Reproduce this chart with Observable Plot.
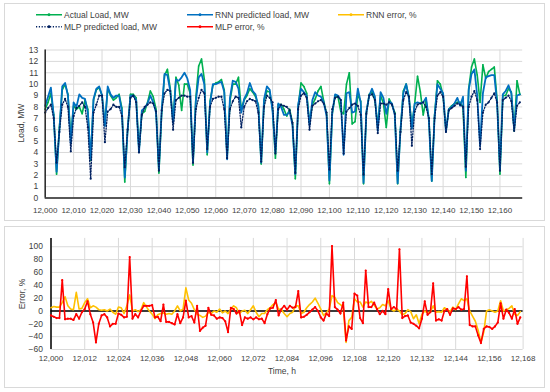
<!DOCTYPE html>
<html><head><meta charset="utf-8">
<script src="https://cdn.jsdelivr.net/npm/d3@7"></script>
<script src="https://cdn.jsdelivr.net/npm/@observablehq/plot@0.6"></script>
<style>
body{margin:0;width:550px;height:392px;background:#fff;position:relative;overflow:hidden;font-family:"Liberation Sans",Arial,sans-serif;color:#404040}
.box{position:absolute;border:1px solid #d9d9d9;box-sizing:border-box}
.abs{position:absolute}
.leg{position:absolute;font-size:8.5px;white-space:nowrap;line-height:1;display:flex;align-items:center;transform:translateY(-50%)}
.leg svg{margin-right:2px}
.ttl{position:absolute;font-size:8.5px;white-space:nowrap;line-height:1}
</style></head><body>
<div class="box" style="left:4px;top:3px;width:541px;height:218px"></div>
<div class="box" style="left:4px;top:226px;width:541px;height:162px"></div>
<div id="top" class="abs" style="left:0;top:0"></div>
<div id="bot" class="abs" style="left:0;top:220px"></div>
<div id="legend"></div>
<div class="ttl" style="left:21px;top:123px;transform:translate(-50%,-50%) rotate(-90deg)">Load, MW</div>
<div class="ttl" style="left:22px;top:294px;transform:translate(-50%,-50%) rotate(-90deg)">Error, %</div>
<div class="ttl" style="left:282px;top:371px;transform:translate(-50%,-50%)">Time, h</div>
<script>
const hours = d3.range(12000, 12168);
const actualLoad = [
7.8,8.4,9.2,7.3,2.1,6.2,9.5,10.0,9.1,5.3,
8.1,7.8,8.0,7.4,8.6,7.8,3.3,8.6,9.5,9.7,
9.0,6.5,9.6,9.0,8.6,8.8,9.1,7.9,1.4,6.0,
9.1,9.1,8.8,4.2,7.4,7.6,8.4,9.4,8.9,7.8,
2.2,7.6,10.8,11.3,9.6,6.8,10.6,9.9,7.7,10.0,
10.0,9.2,2.9,8.8,11.6,12.2,10.4,3.8,8.5,9.9,
10.1,10.2,10.4,9.5,3.5,8.5,10.0,10.0,10.6,7.8,
8.6,9.0,9.6,9.3,8.9,8.2,3.0,8.5,9.4,9.3,
7.8,3.5,8.2,8.2,7.8,7.2,7.8,6.6,1.7,8.0,
10.1,9.8,9.2,6.6,8.2,8.7,9.4,9.8,8.5,7.4,
1.25,7.4,9.0,8.9,7.6,7.4,10.0,11.0,6.5,6.7,
9.1,8.5,1.25,7.5,9.1,9.3,8.6,6.4,9.0,8.3,
6.2,8.7,8.2,7.5,1.25,6.0,9.4,10.0,8.9,6.3,
8.3,10.7,9.3,7.3,8.6,7.0,1.5,7.3,10.3,10.0,
9.0,5.9,7.8,8.1,8.3,8.4,8.4,8.0,1.8,9.6,
11.5,12.2,10.8,8.4,11.7,10.5,11.1,11.3,11.5,8.6,
2.1,9.0,9.0,9.6,9.3,5.9,10.3,9.1];
const rnnLoad = [
8.1,8.9,9.7,7.2,2.3,6.0,9.8,10.1,9.0,4.8,
8.4,8.0,9.1,8.8,8.7,7.5,3.4,8.7,9.6,9.8,
9.0,6.3,9.8,9.1,8.8,9.0,9.0,7.6,1.8,6.0,
9.0,9.0,8.6,4.0,7.7,7.9,8.3,9.0,8.4,7.5,
2.5,7.8,10.9,10.8,9.4,6.6,10.4,10.3,10.6,11.0,
10.5,9.5,3.1,8.5,10.6,10.9,10.0,4.0,8.3,10.0,
10.0,10.1,10.2,9.3,3.4,8.8,10.3,10.2,9.6,7.5,
8.7,9.2,10.1,9.4,9.1,8.0,3.1,8.7,9.8,9.5,
7.6,4.0,8.3,8.0,7.3,7.3,7.6,6.4,2.1,8.2,
9.6,9.3,9.0,6.4,8.6,9.3,9.0,8.9,8.4,7.2,
1.55,7.5,9.1,9.0,8.6,3.8,9.2,9.3,7.5,7.6,
9.6,8.4,1.35,7.6,9.0,9.6,8.9,5.9,9.3,8.8,
7.4,8.5,8.3,7.3,1.3,6.0,9.2,10.0,8.7,6.1,
8.3,8.4,8.3,8.4,8.8,6.8,1.5,7.1,10.0,9.6,
9.2,5.8,7.8,8.0,8.3,8.8,8.1,8.9,2.4,9.5,
10.9,11.3,9.0,4.6,9.2,10.6,10.7,10.8,10.8,8.3,
2.5,9.1,9.4,9.9,9.2,6.0,9.0,9.1];
const mlpLoad = [
7.5,7.9,8.2,7.0,3.1,5.8,8.2,8.7,8.0,4.1,
7.2,7.9,8.1,8.4,8.0,6.2,1.7,7.5,8.2,9.0,
9.0,4.9,7.6,7.8,8.2,8.0,8.0,7.2,2.7,6.0,
8.8,9.0,8.4,4.0,7.3,8.0,8.2,8.4,8.3,7.6,
2.4,7.7,9.2,9.5,9.4,6.0,8.6,8.8,9.0,9.0,
8.9,8.9,3.1,7.8,8.8,9.5,9.2,4.3,8.0,8.7,
8.8,8.9,8.9,7.8,3.5,7.8,8.5,8.9,8.8,6.2,
8.0,8.5,8.7,8.6,8.5,7.5,3.2,8.0,9.0,8.8,
8.4,3.9,7.8,8.2,8.1,8.0,7.7,6.6,2.2,7.8,
9.0,9.2,8.8,6.0,8.1,8.3,8.5,8.6,8.3,7.5,
2.5,7.8,8.8,8.9,8.6,3.9,7.6,7.9,8.2,8.3,
8.1,7.3,2.05,7.4,9.0,9.1,8.6,5.7,8.3,8.3,
8.2,8.4,8.2,7.4,2.4,5.8,8.6,9.3,8.9,4.6,
7.6,8.2,8.3,8.4,8.0,7.0,2.1,7.0,9.0,9.3,
8.9,5.8,7.7,7.9,8.1,8.3,8.2,8.0,2.75,8.0,
8.9,9.4,8.6,4.3,7.5,8.2,8.4,8.8,9.2,8.4,
2.4,8.6,8.8,9.0,8.5,5.9,8.1,8.4];
const rnnError = [
5,7,6,6,13,22,8,3,2,29,
3,4,13,19,5,8,6,2,1,2,
0,3,-2,-5,6,5,-4,8,25,0,
2,-1,2,13,6,0,-5,-12,-6,-4,
-3,-5,-4,-5,0,8,0,3,36,17,
12,2,-5,-7,-10,-8,-2,-4,0,-2,
3,-3,0,-4,3,8,5,-4,0,1,
-4,2,8,-2,-9,-4,-4,2,5,10,
13,3,2,-4,-9,-4,-2,8,8,-4,
-2,5,10,14,20,12,3,-7,-3,3,
24,21,13,10,6,-49,-15,-10,19,14,
14,6,14,12,15,9,3,5,10,8,
16,3,0,3,0,-6,-4,2,-1,-12,
-6,-20,-5,0,-3,-1,8,-2,-1,-2,
5,2,-1,6,2,11,19,16,19,0,
-8,-16,-30,-49,-33,0,2,0,-2,0,
16,0,2,4,8,-5,-7,-1];
const mlpError = [
-7,-9,-11,-11,48,-13,-12,-12,-14,-5,
-12,-2,3,15,-5,-18,-49,-20,-7,-5,
-10,-24,-20,-20,-4,-6,-10,-9,84,-12,
-5,-10,0,8,8,8,9,-10,-9,-16,
10,-17,-17,-19,-21,-5,-19,-10,16,-10,
-8,-18,8,-31,-26,-23,5,-6,-7,-12,
-10,-11,-16,-33,5,3,-4,0,-22,-10,
-12,-10,-13,-10,-13,-12,-19,-5,4,5,
17,-7,3,8,2,8,5,6,31,-10,
-9,-6,-2,2,6,0,-10,-15,-4,-8,
101,6,2,-4,13,-46,-24,-28,27,24,
-11,-19,63,6,6,13,3,-5,0,-5,
34,3,6,3,96,-11,-8,-7,-18,-20,
-23,-27,-12,15,-6,-2,43,-15,-13,-15,
0,3,-6,4,3,6,2,3,54,-22,
-24,-24,-38,-50,-28,-24,-25,-28,-24,-18,
12,-12,2,-3,-12,3,-20,-10];
const loadTicksX = d3.range(12000, 12161, 10);
const loadTicksY = d3.range(0, 14, 1);
const errTicksX = d3.range(12000, 12169, 12);
const errTicksY = d3.range(-60, 101, 20);
const seriesNames = ["Actual Load, MW","RNN predicted load, MW","RNN error, %","MLP predicted load, MW","MLP error, %"];

const rows = hours.map((h,i)=>({h, actual:actualLoad[i], rnn:rnnLoad[i], mlp:mlpLoad[i], rnnErr:rnnError[i], mlpErr:mlpError[i]}));
const fmt = d3.format(",");
const C = {actual:"#00b050", rnn:"#0070c0", rnnErr:"#ffc000", mlp:"#002060", mlpErr:"#ff0000"};
const baseStyle = {fontFamily:"Liberation Sans, Arial, sans-serif", fontSize:"8.5px", color:"#404040", background:"transparent", overflow:"visible"};

const topPlot = Plot.plot({
  width:550, height:220,
  marginLeft:44.7, marginRight:27.8, marginTop:49.5, marginBottom:22.5,
  style: baseStyle,
  x:{domain:[12000,12168]},
  y:{domain:[0,13]},
  marks:[
    Plot.gridY(loadTicksY, {stroke:"#d9d9d9", strokeOpacity:1}),
    Plot.gridX(loadTicksX, {stroke:"#d9d9d9", strokeOpacity:1}),
    Plot.line(rows, {x:"h", y:"actual", stroke:C.actual, strokeWidth:1.6}),
    Plot.dot(rows, {x:"h", y:"actual", r:0.8, fill:C.actual}),
    Plot.line(rows, {x:"h", y:"rnn", stroke:C.rnn, strokeWidth:1.8}),
    Plot.line(rows, {x:"h", y:"mlp", stroke:C.mlp, strokeWidth:1.3, strokeDasharray:"1.2,1.6"}),
    Plot.dot(rows, {x:"h", y:"mlp", r:1.1, fill:C.mlp}),
    Plot.ruleY([0], {stroke:"#262626", strokeWidth:1.5}),
    Plot.ruleX([12000], {stroke:"#262626", strokeWidth:1.5}),
    Plot.axisX(loadTicksX, {tickSize:0, tickPadding:9, tickFormat:fmt, label:null, fontSize:8}),
    Plot.axisY(loadTicksY, {tickSize:0, tickPadding:7, label:null})
  ]
});
document.getElementById("top").appendChild(topPlot);

const botPlot = Plot.plot({
  width:550, height:172,
  marginLeft:50.5, marginRight:27.4, marginTop:17.9, marginBottom:43,
  style: baseStyle,
  x:{domain:[12000,12168]},
  y:{domain:[-60,113]},
  marks:[
    Plot.gridY(errTicksY, {stroke:"#d9d9d9", strokeOpacity:1}),
    Plot.gridX(errTicksX, {stroke:"#d9d9d9", strokeOpacity:1}),
    Plot.ruleY([0], {stroke:"#000", strokeWidth:1.5}),
    Plot.ruleX([12000], {stroke:"#000", strokeWidth:1.5}),
    Plot.line(rows, {x:"h", y:"rnnErr", stroke:C.rnnErr, strokeWidth:1.6}),
    Plot.line(rows, {x:"h", y:"mlpErr", stroke:C.mlpErr, strokeWidth:1.6}),
    Plot.dot(rows, {x:"h", y:"mlpErr", r:1.1, fill:C.mlpErr}),
    Plot.axisX(errTicksX, {tickSize:0, tickPadding:6, tickFormat:fmt, label:null, fontSize:8}),
    Plot.axisY(errTicksY, {tickSize:0, tickPadding:8, label:null})
  ]
});
document.getElementById("bot").appendChild(botPlot);

// legend
const legSpec = [
  {name:seriesNames[0], color:C.actual, dash:null, x:36, y:15},
  {name:seriesNames[1], color:C.rnn, dash:null, x:187, y:15},
  {name:seriesNames[2], color:C.rnnErr, dash:null, x:338, y:15},
  {name:seriesNames[3], color:C.mlp, dash:"1.2,1.6", x:36, y:27},
  {name:seriesNames[4], color:C.mlpErr, dash:null, x:187, y:27}
];
const legend = document.getElementById("legend");
legSpec.forEach(s=>{
  const d = document.createElement("div");
  d.className = "leg";
  d.style.left = s.x + "px";
  d.style.top = s.y + "px";
  d.innerHTML = `<svg width="26" height="6"><line x1="0" x2="26" y1="3" y2="3" stroke="${s.color}" stroke-width="1.6" ${s.dash?`stroke-dasharray="${s.dash}"`:""}/><circle cx="13" cy="3" r="1.4" fill="${s.color}"/></svg><span>${s.name}</span>`;
  legend.appendChild(d);
});
</script>
</body></html>
